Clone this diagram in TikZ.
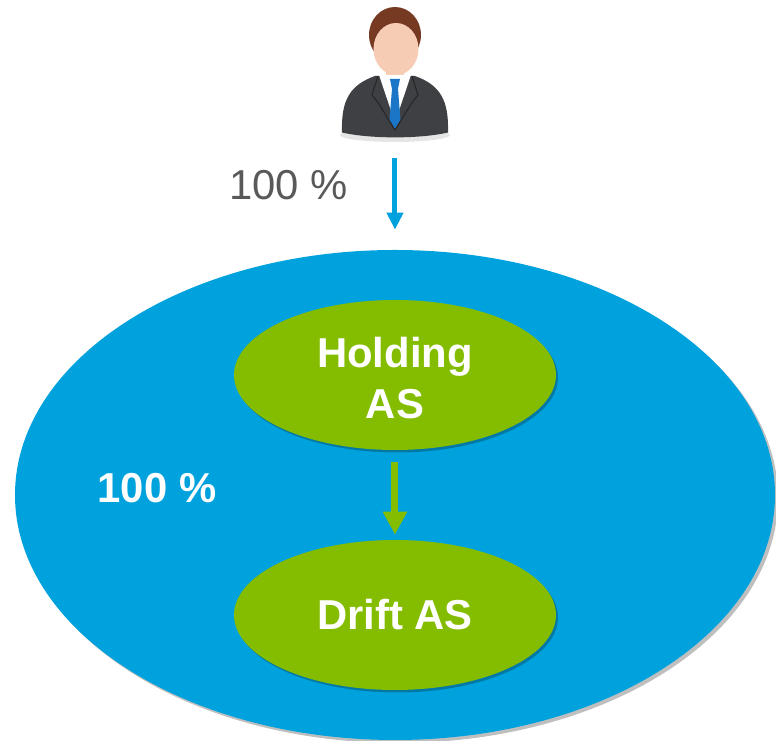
\documentclass[tikz,border=0pt]{standalone}
\usepackage{fontspec}
\setmainfont{Liberation Sans}
\usetikzlibrary{shapes.geometric,shadows,arrows.meta}
\definecolor{groupblue}{RGB}{0,162,222}
\definecolor{firmgreen}{RGB}{132,189,0}
\definecolor{labelgray}{RGB}{89,89,89}
\definecolor{suitgray}{RGB}{62,64,68}
\definecolor{skin}{RGB}{246,204,180}
\definecolor{hairbrown}{RGB}{118,58,34}
\definecolor{tieblue}{RGB}{28,118,200}
\begin{document}
\begin{tikzpicture}[every node/.style={font=\fontsize{23.8}{29}\selectfont},
   firm/.style={ellipse,fill=firmgreen,minimum width=6.44cm,minimum height=3cm,inner sep=0pt,
     text=white,font=\fontsize{23.8}{29}\selectfont\bfseries,align=center,
     drop shadow={shadow xshift=0.04cm,shadow yshift=-0.05cm,fill=black,opacity=0.25}}]
   \useasboundingbox (-7.9,-4.92) rectangle (7.62,9.9);
   \node [ellipse,fill=groupblue,minimum width=15.2cm,minimum height=9.8cm,inner sep=0pt,
     drop shadow={shadow xshift=0.06cm,shadow yshift=-0.06cm,fill=black,opacity=0.25}] (group) at (0,0) {};
   \node [firm] (hold) at (0,2.4) {\raisebox{-0.16cm}[\height][\depth]{\begin{tabular}{@{}c@{}}Holding\\AS\end{tabular}}};
   \node [firm] (drift) at (0,-2.4) {Drift AS};
   \node [text=white,font=\fontsize{23.8}{29}\selectfont\bfseries] (inner) at (-4.76,0.14) {100 \%};
   % the owner
   \fill [black!20,opacity=0.5] (0,7.2) ellipse (1.1 and 0.14);
   \fill [suitgray] (-1.06,7.25) .. controls (-1.08,7.9) and (-0.9,8.2) .. (-0.4,8.38) -- (0.4,8.38)
     .. controls (0.9,8.2) and (1.08,7.9) .. (1.06,7.25) .. controls (0.5,7.12) and (-0.5,7.12) .. (-1.06,7.25);
   \fill [skin] (-0.18,8.2) rectangle (0.18,8.6);
   \fill [white] (-0.32,8.4) -- (0.32,8.4) -- (0,7.45) -- cycle;
   \fill [tieblue] (-0.1,8.32) -- (0.1,8.32) -- (0.06,8.12) -- (0.11,7.5) -- (0,7.32) -- (-0.11,7.5) -- (-0.06,8.12) -- cycle;
   \draw [black!85,line width=0.6pt] (-0.34,8.38) -- (-0.46,8.0) -- (-0.34,7.85) -- (0,7.3) (0.34,8.38) -- (0.46,8.0) -- (0.34,7.85) -- (0,7.3);
   \fill [hairbrown] (0,9.2) ellipse (0.52 and 0.56);
   \fill [skin] (0.02,8.92) ellipse (0.45 and 0.52);
   \coordinate (man) at (0,7.2);
   \node [text=labelgray] (share) at (-2.13,6.2) {100 \%};
   \draw [line width=0.1cm,groupblue,-{Triangle[length=0.34cm,width=0.32cm]}] ([yshift=-0.46cm]man) -- ([yshift=0.4cm]group.north);
   \draw [line width=0.14cm,firmgreen,-{Triangle[length=0.46cm,width=0.46cm]}] ([yshift=-0.24cm]hold.south) -- ([yshift=0.1cm]drift.north);
\end{tikzpicture}
\end{document}
